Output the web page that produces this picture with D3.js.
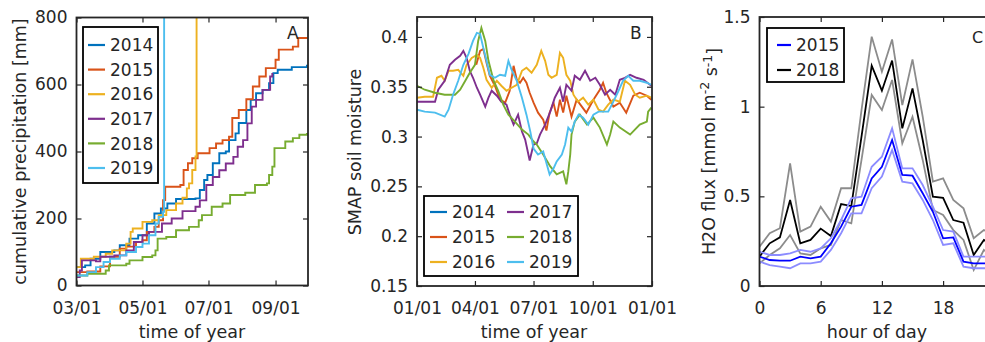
<!DOCTYPE html>
<html>
<head>
<meta charset="utf-8">
<script src="https://cdn.jsdelivr.net/npm/d3@7"></script>
<style>
  body { margin: 0; background: #fff; }
  text { font-family: 'DejaVu Sans', sans-serif; fill: #262626; }
</style>
</head>
<body>
<script>
// ---- panel A: cumulative precipitation, [days since 03/01, mm]
const yearsA = ['2014', '2015', '2016', '2017', '2018', '2019'];
const precip2014 = [[0,55],[8,60],[13,80],[22,100],[35,105],[40,120],[49,140],[57,150],[65,185],[72,215],[78,230],[84,245],[92,258],[110,260],[114,285],[118,315],[121,330],[126,365],[132,395],[138,400],[141,434],[147,454],[150,485],[157,524],[161,554],[166,574],[172,584],[178,604],[182,634],[186,644],[199,652],[213,659]];
const precip2015 = [[0,40],[10,42],[22,57],[31,86],[40,110],[46,116],[55,130],[61,135],[65,160],[72,175],[76,195],[80,255],[82,295],[96,300],[99,345],[103,365],[107,380],[112,395],[123,410],[129,424],[135,434],[141,444],[144,500],[150,524],[157,556],[163,594],[169,624],[175,649],[184,674],[187,704],[200,713],[205,739],[213,742]];
const precip2016 = [[0,55],[4,80],[16,86],[27,95],[33,105],[46,125],[50,160],[52,170],[61,190],[70,195],[76,210],[83,225],[92,245],[98,262],[102,290],[104,305],[107,345],[110,385],[111,1200]];
const precip2017 = [[0,25],[3,45],[5,75],[18,72],[22,86],[35,90],[46,105],[53,130],[61,150],[67,160],[79,185],[88,200],[98,222],[110,235],[114,254],[120,300],[126,324],[132,344],[138,364],[145,384],[149,414],[154,434],[158,484],[162,534],[166,554],[172,584],[179,624],[181,634]];
const precip2018 = [[0,30],[10,35],[27,45],[30,60],[46,65],[49,75],[61,85],[70,90],[73,105],[75,140],[83,145],[92,165],[104,175],[113,195],[116,210],[125,235],[135,245],[142,270],[156,277],[165,300],[176,305],[178,330],[181,355],[183,410],[193,430],[200,440],[206,450],[213,455]];
const precip2019 = [[0,30],[10,40],[18,55],[25,70],[31,80],[40,90],[46,100],[55,115],[61,125],[67,150],[73,185],[76,205],[80,220],[81,1200]];
const precipA = [precip2014, precip2015, precip2016, precip2017, precip2018, precip2019];

// ---- panel B: SMAP soil moisture, [day of year, value]
const sm2014 = [];
const sm2015 = [[92,0.372],[98,0.386],[103,0.388],[108,0.374],[113,0.361],[121,0.351],[129,0.337],[137,0.334],[144,0.346],[150,0.371],[155,0.357],[160,0.354],[165,0.359],[170,0.354],[175,0.344],[181,0.334],[188,0.324],[196,0.317],[201,0.306],[206,0.324],[212,0.334],[217,0.320],[222,0.337],[227,0.324],[232,0.341],[240,0.320],[248,0.337],[256,0.330],[263,0.324],[274,0.337],[284,0.347],[289,0.354],[294,0.344],[305,0.330],[315,0.334],[325,0.324],[336,0.341],[346,0.344],[357,0.341],[364,0.337]];
const sm2016 = [[0,0.339],[12,0.340],[25,0.340],[31,0.359],[38,0.361],[43,0.356],[49,0.366],[56,0.366],[64,0.367],[72,0.361],[77,0.372],[85,0.379],[93,0.382],[98,0.379],[103,0.369],[108,0.357],[116,0.349],[124,0.356],[131,0.351],[139,0.346],[147,0.349],[155,0.352],[163,0.366],[170,0.369],[178,0.364],[186,0.372],[193,0.386],[199,0.376],[204,0.362],[209,0.359],[217,0.362],[222,0.384],[227,0.379],[232,0.362],[238,0.356],[243,0.342],[250,0.335],[258,0.339],[266,0.332],[274,0.337],[282,0.327],[289,0.325],[297,0.332],[305,0.337],[315,0.335],[323,0.356],[331,0.352],[339,0.342],[346,0.339],[357,0.341],[364,0.339]];
const sm2017 = [[0,0.335],[12,0.335],[28,0.335],[33,0.347],[43,0.356],[51,0.372],[59,0.377],[67,0.381],[72,0.386],[77,0.379],[82,0.366],[87,0.359],[93,0.349],[98,0.342],[106,0.330],[111,0.339],[116,0.346],[124,0.341],[131,0.335],[139,0.332],[144,0.322],[150,0.312],[157,0.322],[163,0.305],[168,0.297],[175,0.276],[181,0.292],[186,0.293],[191,0.302],[199,0.312],[207,0.325],[214,0.339],[222,0.349],[227,0.335],[232,0.352],[240,0.346],[245,0.361],[253,0.357],[261,0.366],[269,0.356],[277,0.359],[284,0.352],[292,0.342],[300,0.347],[308,0.342],[315,0.357],[323,0.359],[331,0.362],[341,0.359],[352,0.357],[364,0.351]];
const sm2018 = [[0,0.351],[12,0.347],[28,0.344],[43,0.342],[59,0.342],[67,0.347],[75,0.356],[82,0.364],[90,0.372],[95,0.396],[100,0.409],[106,0.396],[111,0.376],[119,0.356],[126,0.346],[134,0.332],[142,0.322],[152,0.315],[163,0.307],[173,0.302],[181,0.295],[186,0.292],[196,0.282],[207,0.270],[217,0.262],[227,0.265],[232,0.252],[235,0.265],[238,0.282],[240,0.302],[245,0.315],[253,0.322],[264,0.312],[274,0.319],[284,0.309],[295,0.292],[300,0.302],[305,0.315],[315,0.309],[331,0.302],[346,0.312],[357,0.315],[359,0.325],[364,0.329]];
const sm2019 = [[0,0.327],[12,0.325],[28,0.324],[43,0.320],[49,0.327],[56,0.342],[64,0.356],[72,0.372],[80,0.383],[87,0.396],[93,0.404],[98,0.403],[103,0.389],[108,0.376],[113,0.362],[121,0.359],[129,0.362],[137,0.361],[142,0.376],[147,0.367],[155,0.356],[163,0.339],[170,0.322],[176,0.305],[181,0.288],[188,0.282],[196,0.285],[206,0.262],[212,0.268],[217,0.275],[225,0.282],[230,0.292],[235,0.309],[240,0.305],[245,0.315],[251,0.322],[258,0.319],[266,0.312],[274,0.322],[282,0.325],[289,0.325],[297,0.325],[305,0.335],[313,0.346],[320,0.356],[328,0.361],[336,0.356],[346,0.356],[357,0.354],[364,0.352]];
const smB = [sm2014, sm2015, sm2016, sm2017, sm2018, sm2019];

// ---- panel C: H2O flux by hour
const hours = [0,1,2,3,4,5,6,7,8,9,10,11,12,13,14,15,16,17,18,19,20,21,22,23];
const flux2015 = [0.164,0.145,0.141,0.141,0.164,0.154,0.164,0.238,0.331,0.442,0.452,0.600,0.665,0.814,0.619,0.615,0.517,0.414,0.266,0.271,0.136,0.126,0.126,0.126];
const flux2015Hi = [0.191,0.173,0.173,0.182,0.201,0.191,0.210,0.266,0.368,0.489,0.498,0.665,0.721,0.879,0.656,0.656,0.563,0.442,0.312,0.303,0.164,0.164,0.164,0.164];
const flux2015Lo = [0.136,0.117,0.108,0.099,0.126,0.126,0.136,0.201,0.294,0.405,0.405,0.545,0.610,0.758,0.582,0.572,0.480,0.368,0.229,0.238,0.108,0.099,0.099,0.099];
const flux2018 = [0.164,0.238,0.271,0.480,0.238,0.257,0.320,0.279,0.457,0.446,0.833,1.229,1.089,1.257,0.879,1.102,0.814,0.498,0.491,0.368,0.353,0.173,0.257,0.220];
const flux2018Hi = [0.219,0.294,0.322,0.684,0.303,0.331,0.442,0.359,0.545,0.545,0.981,1.390,1.195,1.375,1.009,1.264,0.944,0.582,0.600,0.480,0.433,0.266,0.312,0.290];
const flux2018Lo = [0.126,0.173,0.210,0.284,0.182,0.173,0.210,0.229,0.368,0.349,0.703,1.065,0.981,1.149,0.796,0.944,0.703,0.424,0.396,0.312,0.257,0.089,0.201,0.160];

const colors = ['#0072BD', '#D95319', '#EDB120', '#7E2F8E', '#77AC30', '#4DBEEE'];
const INK = '#262626';

const svg = d3.select('body').append('svg').attr('width', 985).attr('height', 342);

// box with inward ticks on all four sides, MATLAB style
function frame(id, box, x, y, xTicks, yTicks, xFmt, yFmt) {
  const g = svg.append('g');
  g.append('clipPath').attr('id', id).append('rect')
    .attr('x', box.l).attr('y', box.t).attr('width', box.r - box.l).attr('height', box.b - box.t);
  const plot = g.append('g').attr('clip-path', 'url(#' + id + ')');
  const style = (s, keep) => {
    s.select('.domain').remove();
    s.attr('font-family', null).attr('font-size', 17);
    s.selectAll('line').attr('stroke', INK).attr('stroke-width', 1.2);
    if (!keep) s.selectAll('text').remove();
  };
  g.append('g').attr('transform', 'translate(0,' + box.b + ')')
    .call(d3.axisBottom(x).tickValues(xTicks).tickFormat(xFmt).tickSizeInner(-5).tickSizeOuter(0).tickPadding(16))
    .call(style, true);
  g.append('g').attr('transform', 'translate(0,' + box.t + ')')
    .call(d3.axisTop(x).tickValues(xTicks).tickSizeInner(-5).tickSizeOuter(0))
    .call(style, false);
  g.append('g').attr('transform', 'translate(' + box.l + ',0)')
    .call(d3.axisLeft(y).tickValues(yTicks).tickFormat(yFmt).tickSizeInner(-5).tickSizeOuter(0).tickPadding(9))
    .call(style, true);
  g.append('g').attr('transform', 'translate(' + box.r + ',0)')
    .call(d3.axisRight(y).tickValues(yTicks).tickSizeInner(-5).tickSizeOuter(0))
    .call(style, false);
  g.append('rect')
    .attr('x', box.l).attr('y', box.t).attr('width', box.r - box.l).attr('height', box.b - box.t)
    .attr('fill', 'none').attr('stroke', INK).attr('stroke-width', 1.8);
  return { g, plot };
}

function legend(g, bx, items, lineLen) {
  g.append('rect').attr('x', bx.x).attr('y', bx.y).attr('width', bx.w).attr('height', bx.h)
    .attr('fill', '#fff').attr('stroke', '#000').attr('stroke-width', 1.8);
  items.forEach(d => {
    g.append('line').attr('x1', d.x).attr('x2', d.x + lineLen).attr('y1', d.y).attr('y2', d.y)
      .attr('stroke', d.color).attr('stroke-width', 2.2);
    g.append('text').attr('x', d.x + lineLen + 5).attr('y', d.y).attr('dy', '0.36em')
      .attr('font-size', 17).text(d.label);
  });
}

function yTitle(x, y, txt) {
  return svg.append('text').attr('transform', 'translate(' + x + ',' + y + ') rotate(-90)')
    .attr('text-anchor', 'middle').attr('font-size', 17.5).text(txt);
}
function xTitle(x, y, txt) {
  svg.append('text').attr('x', x).attr('y', y).attr('text-anchor', 'middle').attr('font-size', 17.5).text(txt);
}

const fmtDate = d3.utcFormat('%m/%d');
const numFmt = v => String(v);

// ---------------- A
const A = { l: 76.5, t: 17.5, r: 308, b: 285.5 };
const mar1 = new Date(Date.UTC(2001, 2, 1));
const xA = d3.scaleUtc().domain([mar1, new Date(Date.UTC(2001, 9, 1))]).range([A.l, A.r]);
const yA = d3.scaleLinear().domain([0, 800]).range([A.b, A.t]);
const pA = frame('clipA', A, xA, yA,
  [2, 4, 6, 8].map(m => new Date(Date.UTC(2001, m, 1))), [0, 200, 400, 600, 800], fmtDate, numFmt);
const lineA = d3.line().curve(d3.curveStepAfter)
  .x(d => xA(d3.utcDay.offset(mar1, d[0]))).y(d => yA(d[1]));
precipA.forEach((s, i) => {
  pA.plot.append('path').datum(s).attr('d', lineA)
    .attr('fill', 'none').attr('stroke', colors[i]).attr('stroke-width', 1.9);
});
legend(pA.g, { x: 83, y: 27, w: 75, h: 156 },
  yearsA.map((yr, i) => ({ label: yr, color: colors[i], x: 88, y: 45 + i * 24.6 })), 17);
pA.g.append('text').attr('x', 287).attr('y', 39).attr('font-size', 17).text('A');
yTitle(26, 151.5, 'cumulative precipitation [mm]');
xTitle(192, 338, 'time of year');

// ---------------- B
const B = { l: 417, t: 17, r: 652, b: 286 };
const jan1 = new Date(Date.UTC(2001, 0, 1));
const xB = d3.scaleUtc().domain([jan1, new Date(Date.UTC(2002, 0, 1))]).range([B.l, B.r]);
const yB = d3.scaleLinear().domain([0.15, 0.42]).range([B.b, B.t]);
const pB = frame('clipB', B, xB, yB,
  [[2001, 0], [2001, 3], [2001, 6], [2001, 9], [2002, 0]].map(d => new Date(Date.UTC(d[0], d[1], 1))),
  [0.15, 0.2, 0.25, 0.3, 0.35, 0.4], fmtDate, numFmt);
const lineB = d3.line().x(d => xB(d3.utcDay.offset(jan1, d[0]))).y(d => yB(d[1]));
smB.forEach((s, i) => {
  pB.plot.append('path').datum(s).attr('d', lineB)
    .attr('fill', 'none').attr('stroke', colors[i]).attr('stroke-width', 1.9);
});
legend(pB.g, { x: 424, y: 196, w: 154, h: 80 },
  yearsA.map((yr, i) => ({ label: yr, color: colors[i], x: i < 3 ? 430 : 507, y: 212 + (i % 3) * 25 })), 17);
pB.g.append('text').attr('x', 630).attr('y', 38.5).attr('font-size', 17).text('B');
yTitle(361, 152, 'SMAP soil moisture');
xTitle(534, 338, 'time of year');

// ---------------- C
const C = { l: 759.5, t: 17, r: 759.5 + 24 * 10.2, b: 286 };
const xC = d3.scaleLinear().domain([0, 24]).range([C.l, C.r]);
const yC = d3.scaleLinear().domain([0, 1.5]).range([C.b, C.t]);
const pC = frame('clipC', C, xC, yC, [0, 6, 12, 18], [0, 0.5, 1, 1.5], numFmt, numFmt);
const lineC = vals => d3.line().x((d, i) => xC(hours[i])).y(d => yC(d))(vals);
[[flux2018Lo, '#8c8c8c'], [flux2018Hi, '#8c8c8c'], [flux2018, '#000'],
 [flux2015Lo, '#8c8cff'], [flux2015Hi, '#8c8cff'], [flux2015, '#0000ff']].forEach(([v, c]) => {
  pC.plot.append('path').attr('d', lineC(v))
    .attr('fill', 'none').attr('stroke', c).attr('stroke-width', 1.8);
});
legend(pC.g, { x: 767, y: 28, w: 77, h: 54 },
  [{ label: '2015', color: '#0000ff', x: 777, y: 45 }, { label: '2018', color: '#000', x: 777, y: 70 }], 14);
pC.g.append('text').attr('x', 972).attr('y', 43).attr('font-size', 16).text('C');
const tC = yTitle(715, 151.5, 'H2O flux [mmol m');
tC.append('tspan').attr('dy', '-0.45em').attr('font-size', 12.5).text('-2');
tC.append('tspan').attr('dy', '0.45em').text(' s');
tC.append('tspan').attr('dy', '-0.45em').attr('font-size', 12.5).text('-1');
tC.append('tspan').attr('dy', '0.45em').text(']');
xTitle(877, 338, 'hour of day');
</script>
</body>
</html>
